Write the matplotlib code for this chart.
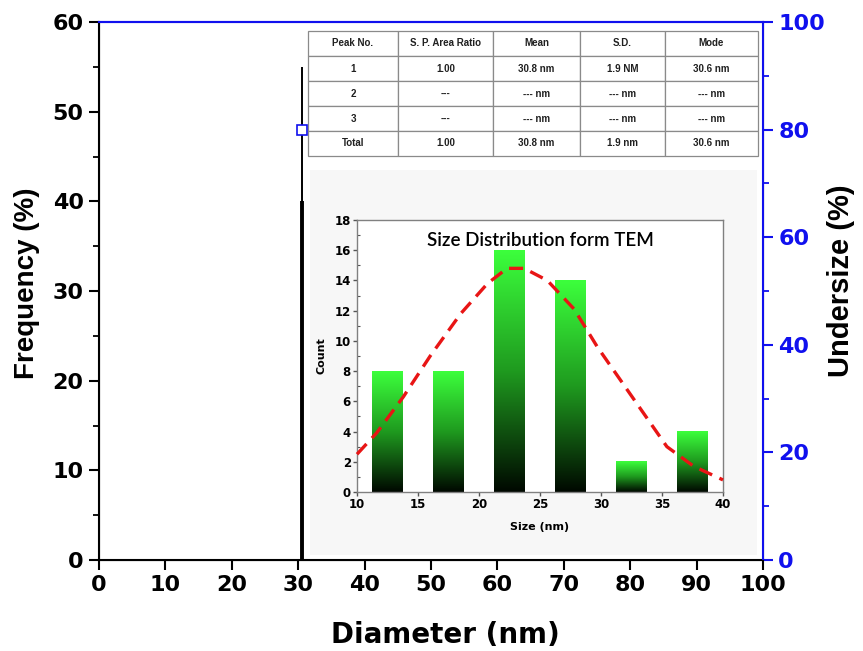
import numpy as np
import matplotlib
matplotlib.use("Agg")
import matplotlib.pyplot as plt
from matplotlib.colors import LinearSegmentedColormap
from matplotlib.patches import Rectangle

plt.rcParams['font.family'] = ['DejaVu Sans']

# DLS result: single peak
peak_diameter = 30.6          # nm
freq_main = 40.0              # %
freq_tail = 55.0              # %
undersize_marker = 80.0       # %

# Peak summary table
col_labels = ["Peak No.", "S. P. Area Ratio", "Mean", "S.D.", "Mode"]
table_rows = [
    ["1", "1.00", "30.8 nm", "1.9 NM", "30.6 nm"],
    ["2", "---", "--- nm", "--- nm", "--- nm"],
    ["3", "---", "--- nm", "--- nm", "--- nm"],
    ["Total", "1.00", "30.8 nm", "1.9 nm", "30.6 nm"],
]

# TEM histogram
tem_bins = [12.5, 17.5, 22.5, 27.5, 32.5, 37.5]
tem_counts = [8, 8, 16, 14, 2, 4]
bin_width = 2.5

# Fitted distribution curve (read points)
fit_x = [10.0, 11.6, 13.8, 16.0, 18.5, 20.7, 22.3, 23.7, 25.6, 27.8, 29.7,
         31.6, 33.5, 35.4, 37.6, 40.0]
fit_y = [2.5, 3.9, 6.3, 9.0, 11.8, 13.8, 14.8, 14.8, 14.0, 12.1, 9.6,
         7.4, 5.2, 3.0, 1.7, 0.8]

BLUE = '#1010ee'
LIB = ['Liberation Sans', 'DejaVu Sans']
W, H = 863, 651

fig = plt.figure(figsize=(W / 100, H / 100), dpi=100)

# faint panel behind the inset
fig.patches.append(Rectangle((310 / W, 1 - 555 / H), 447 / W, 385 / H,
                             transform=fig.transFigure, facecolor='#f7f7f7',
                             edgecolor='none', zorder=-5))

ax = fig.add_axes([99 / W, 1 - 560 / H, 664 / W, 538 / H])
ax.patch.set_alpha(0)
ax.set_xlim(0, 100)
ax.set_ylim(0, 60)

ax.plot([peak_diameter, peak_diameter], [0, freq_tail], color='black', lw=1.4,
        solid_capstyle='butt', zorder=3)
ax.plot([peak_diameter, peak_diameter], [0, freq_main], color='black', lw=2.8,
        solid_capstyle='butt', zorder=3)

ax.set_xticks(np.arange(0, 101, 10))
ax.set_yticks(np.arange(0, 61, 10))
ax.set_yticks(np.arange(5, 60, 10), minor=True)
ax.tick_params(axis='both', which='major', direction='out', length=7, width=1.5,
               labelsize=16, pad=4)
ax.tick_params(axis='y', which='minor', direction='out', length=4, width=1.3)
for lab in ax.get_xticklabels() + ax.get_yticklabels():
    lab.set_fontweight('bold')
for s in ['left', 'bottom']:
    ax.spines[s].set_linewidth(1.5)
ax.spines['top'].set_color(BLUE)
ax.spines['top'].set_linewidth(1.5)

ax2 = ax.twinx()
ax2.set_ylim(0, 100)
ax2.plot([peak_diameter], [undersize_marker], marker='s', ms=7, mfc='white',
         mec=BLUE, mew=1.2, ls='none', zorder=5)
ax2.set_yticks(np.arange(0, 101, 20))
ax2.set_yticks(np.arange(10, 100, 20), minor=True)
ax2.tick_params(axis='y', which='major', direction='out', length=7, width=1.5,
                colors=BLUE, labelsize=16, pad=4)
ax2.tick_params(axis='y', which='minor', direction='out', length=4, width=1.3,
                colors=BLUE)
for lab in ax2.get_yticklabels():
    lab.set_fontweight('bold')
ax2.spines['right'].set_color(BLUE)
ax2.spines['right'].set_linewidth(1.5)
ax2.spines['top'].set_color(BLUE)
ax2.spines['top'].set_linewidth(1.5)

# axis titles
fig.text(445 / W, 1 - 635 / H, 'Diameter (nm)', fontsize=20, fontweight='bold',
         ha='center', va='center')
fig.text(27 / W, 1 - 283 / H, 'Frequency (%)', fontsize=20, fontweight='bold',
         ha='center', va='center', rotation=90, family=LIB)
fig.text(841 / W, 1 - 281 / H, 'Undersize (%)', fontsize=21, fontweight='bold',
         ha='center', va='center', rotation=90, family=LIB)

# summary table
col_edges = [308, 398, 493, 580, 665, 758]
row_h = 25
widths = [(col_edges[i + 1] - col_edges[i]) / 664 for i in range(5)]
tbl = ax.table(cellText=table_rows, colLabels=col_labels, colWidths=widths,
               cellLoc='center',
               bbox=[(308 - 99) / 664, 1 - (31 + 5 * row_h - 22) / 538,
                     (758 - 308) / 664, 5 * row_h / 538])
tbl.auto_set_font_size(False)
tbl.set_fontsize(7)
for (r, c), cell in tbl.get_celld().items():
    cell.set_edgecolor('#8a8a8a')
    cell.set_linewidth(0.9)
    cell.set_facecolor('white')
    cell.get_text().set_fontweight('bold')
    cell.get_text().set_family(LIB)
    cell.get_text().set_color('#202020')
tbl.set_zorder(4)

# inset: TEM size histogram
ins = fig.add_axes([357 / W, 1 - 492 / H, 366 / W, 272 / H])
ins.set_facecolor('white')
cmap = LinearSegmentedColormap.from_list('grn', ['#000800', '#1f9a1f', '#3cff3c'])
grad = np.linspace(0, 1, 256).reshape(-1, 1)
for xc, h in zip(tem_bins, tem_counts):
    ins.imshow(grad, extent=[xc - bin_width / 2, xc + bin_width / 2, 0, h],
               origin='lower', aspect='auto', cmap=cmap, zorder=2,
               interpolation='bilinear')
ins.set_xlim(10, 40)
ins.set_ylim(0, 18)
ins.plot(fit_x, fit_y, color='#e81515', lw=2.4, ls=(0, (4.2, 2.4)), zorder=3,
         clip_on=False)
ins.set_xticks(np.arange(10, 41, 5))
ins.set_xticks(np.arange(12.5, 40, 5), minor=True)
ins.set_yticks(np.arange(0, 19, 2))
ins.set_yticks(np.arange(1, 18, 2), minor=True)
ins.tick_params(axis='both', which='major', direction='out', length=3, width=1,
                color='#555555', labelsize=8.5, pad=1.5)
ins.tick_params(axis='both', which='minor', direction='in', length=2, width=0.8,
                color='#555555')
for lab in ins.get_xticklabels() + ins.get_yticklabels():
    lab.set_fontweight('bold')
for s in ins.spines.values():
    s.set_color('#808080')
    s.set_linewidth(1.0)
ins.set_xlabel('Size (nm)', fontsize=8, fontweight='bold', labelpad=8)
ins.set_ylabel('Count', fontsize=8, fontweight='bold', labelpad=6)
ins.text(0.5, 0.925, 'Size Distribution form TEM', transform=ins.transAxes,
         ha='center', va='center', fontsize=13.5, family=['Lato', 'DejaVu Sans'],
         fontweight='semibold')

fig.savefig('out.png', dpi=100)
